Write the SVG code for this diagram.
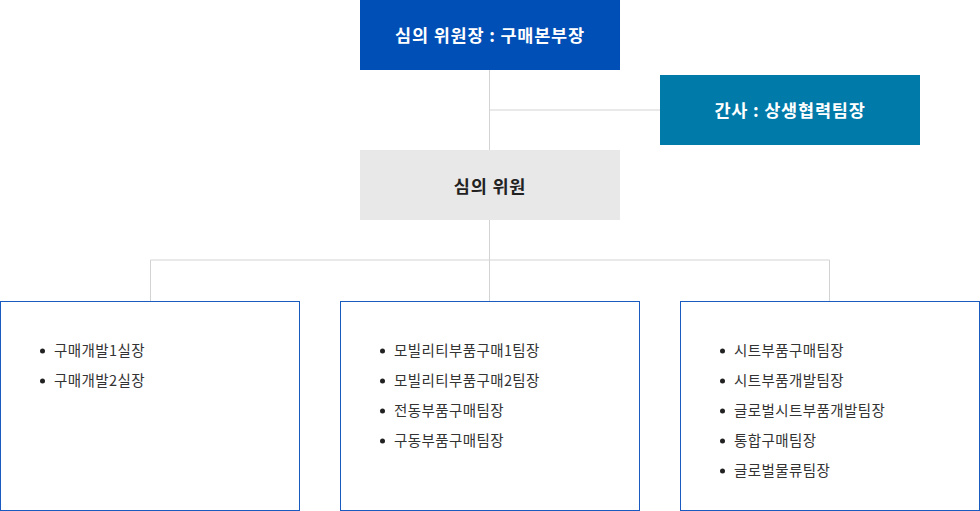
<svg xmlns="http://www.w3.org/2000/svg" width="980" height="511" viewBox="0 0 980 511">
<style>
.t{font-family:"Noto Sans CJK KR","Noto Sans",sans-serif;}
.h{font-size:17.5px;font-weight:bold;text-anchor:middle;letter-spacing:0.8px;}
.w{fill:#ffffff;}
.d{fill:#222222;}
.li{font-size:14.5px;fill:#333333;letter-spacing:0.4px;}
.box{fill:#ffffff;stroke:#1a5bbf;stroke-width:1;}
.c{stroke:#d3d3d3;stroke-width:1;fill:none;}
.b{fill:#222222;}
</style>
<g id="connectors">
<path class="c" d="M489.5 70V150M489.5 110H660M489.5 220V260M150.5 260H829.5M150.5 260V301M489.5 260V301M829.5 260V301"/>
</g>
<g id="chair">
<rect x="360" y="0" width="260" height="70" fill="#004fb6"/>
<text class="t h w" x="490" y="42">심의 위원장 : 구매본부장</text>
</g>
<g id="secretary">
<rect x="660" y="75" width="260" height="70" fill="#007aa9"/>
<text class="t h w" x="790" y="117">간사 : 상생협력팀장</text>
</g>
<g id="members">
<rect x="360" y="150" width="260" height="70" fill="#e8e8e8"/>
<text class="t h d" x="490" y="193">심의 위원</text>
</g>
<g id="group1">
<rect class="box" x="0.5" y="301.5" width="299" height="209"/>
<circle class="b" cx="42.5" cy="351" r="2.5"/>
<text class="t li" x="54" y="356">구매개발1실장</text>
<circle class="b" cx="42.5" cy="381" r="2.5"/>
<text class="t li" x="54" y="386">구매개발2실장</text>
</g>
<g id="group2">
<rect class="box" x="340.5" y="301.5" width="299" height="209"/>
<circle class="b" cx="382.5" cy="351" r="2.5"/>
<text class="t li" x="394" y="356">모빌리티부품구매1팀장</text>
<circle class="b" cx="382.5" cy="381" r="2.5"/>
<text class="t li" x="394" y="386">모빌리티부품구매2팀장</text>
<circle class="b" cx="382.5" cy="411" r="2.5"/>
<text class="t li" x="394" y="416">전동부품구매팀장</text>
<circle class="b" cx="382.5" cy="441" r="2.5"/>
<text class="t li" x="394" y="446">구동부품구매팀장</text>
</g>
<g id="group3">
<rect class="box" x="680.5" y="301.5" width="299" height="209"/>
<circle class="b" cx="722.5" cy="351" r="2.5"/>
<text class="t li" x="734" y="356">시트부품구매팀장</text>
<circle class="b" cx="722.5" cy="381" r="2.5"/>
<text class="t li" x="734" y="386">시트부품개발팀장</text>
<circle class="b" cx="722.5" cy="411" r="2.5"/>
<text class="t li" x="734" y="416">글로벌시트부품개발팀장</text>
<circle class="b" cx="722.5" cy="441" r="2.5"/>
<text class="t li" x="734" y="446">통합구매팀장</text>
<circle class="b" cx="722.5" cy="471" r="2.5"/>
<text class="t li" x="734" y="476">글로벌물류팀장</text>
</g>
</svg>
